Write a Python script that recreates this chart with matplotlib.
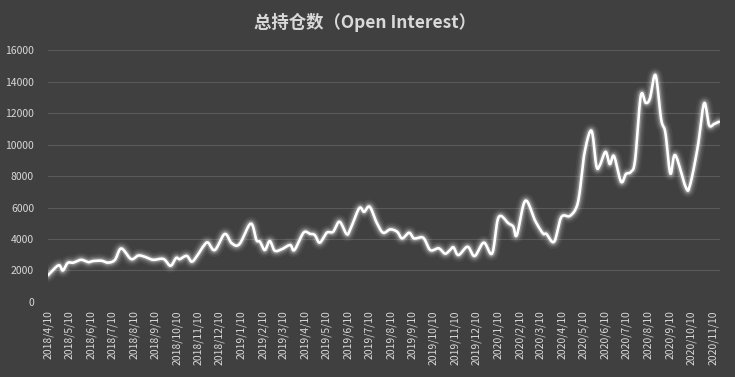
import numpy as np
import pandas as pd
import matplotlib
matplotlib.use("Agg")
import matplotlib.pyplot as plt
import matplotlib.dates as mdates

plt.rcParams['font.family'] = ['Noto Sans CJK SC', 'DejaVu Sans']

# weekly-ish open interest values
dates = [
    '2018-04-10', '2018-04-25', '2018-05-01', '2018-05-08', '2018-05-16', '2018-05-27',
    '2018-06-06', '2018-06-13', '2018-06-25', '2018-07-04', '2018-07-14', '2018-07-23',
    '2018-08-06', '2018-08-16', '2018-08-25', '2018-09-06', '2018-09-21', '2018-10-01',
    '2018-10-09', '2018-10-14', '2018-10-24', '2018-10-31', '2018-11-07', '2018-11-16',
    '2018-11-23', '2018-12-03', '2018-12-17', '2018-12-27', '2019-01-07', '2019-01-23',
    '2019-01-31', '2019-02-05', '2019-02-12', '2019-02-19', '2019-02-26', '2019-03-08',
    '2019-03-20', '2019-03-26', '2019-04-08', '2019-04-17', '2019-04-24', '2019-05-01',
    '2019-05-11', '2019-05-20', '2019-05-29', '2019-06-08', '2019-06-13', '2019-06-26',
    '2019-07-03', '2019-07-11', '2019-07-21', '2019-07-30', '2019-08-09', '2019-08-19',
    '2019-08-26', '2019-09-05', '2019-09-12', '2019-09-25', '2019-10-05', '2019-10-17',
    '2019-10-26', '2019-11-02', '2019-11-07', '2019-11-14', '2019-11-27', '2019-12-07',
    '2019-12-20', '2020-01-01', '2020-01-10', '2020-01-24', '2020-01-31', '2020-02-05',
    '2020-02-17', '2020-03-02', '2020-03-13', '2020-03-18', '2020-03-29', '2020-04-08',
    '2020-04-20', '2020-04-29', '2020-05-04', '2020-05-11', '2020-05-21', '2020-05-28',
    '2020-06-02', '2020-06-10', '2020-06-16', '2020-06-22', '2020-07-02', '2020-07-09',
    '2020-07-16', '2020-07-22', '2020-07-30', '2020-08-06', '2020-08-12', '2020-08-20',
    '2020-08-28', '2020-09-03', '2020-09-10', '2020-09-17', '2020-10-02', '2020-10-08',
    '2020-10-19', '2020-10-28', '2020-11-04', '2020-11-11', '2020-11-18',
]
open_interest = [
    1700, 2330, 2000, 2480, 2500, 2680,
    2530, 2600, 2620, 2500, 2670, 3400,
    2730, 2950, 2880, 2680, 2730, 2300,
    2800, 2720, 2930, 2560, 2880, 3500,
    3780, 3300, 4320, 3730, 3680, 4980,
    3940, 3830, 3300, 3870, 3260, 3350,
    3620, 3300, 4400, 4330, 4250, 3770,
    4400, 4460, 5100, 4320, 4570, 5950,
    5730, 6050, 5030, 4400, 4610, 4460,
    4040, 4400, 4040, 4080, 3300, 3410,
    3070, 3300, 3470, 2980, 3510, 2920,
    3770, 3090, 5380, 5000, 4780, 4250,
    6430, 5160, 4360, 4320, 3830, 5380,
    5460, 5950, 6900, 9440, 10880, 8630,
    8700, 9540, 8760, 9270, 7640, 8130,
    8270, 9020, 13080, 12650, 12930, 14410,
    11600, 10750, 8170, 9330, 7280, 7430,
    9860, 12620, 11240, 11300, 11450,
]
tick_labels = pd.date_range('2018-04-01', '2020-11-01', freq='MS') + pd.Timedelta(days=9)


def catmull_rom(x, y, n=12):
    # smooth curve through the points, like a spreadsheet "smoothed line"
    x = np.asarray(x, float)
    y = np.asarray(y, float)
    px = np.concatenate([[2 * x[0] - x[1]], x, [2 * x[-1] - x[-2]]])
    py = np.concatenate([[2 * y[0] - y[1]], y, [2 * y[-1] - y[-2]]])
    t = np.linspace(0, 1, n, endpoint=False)
    xs, ys = [], []
    for i in range(1, len(px) - 2):
        for p, out in ((px, xs), (py, ys)):
            p0, p1, p2, p3 = p[i - 1], p[i], p[i + 1], p[i + 2]
            out.append(0.5 * ((2 * p1) + (-p0 + p2) * t
                              + (2 * p0 - 5 * p1 + 4 * p2 - p3) * t ** 2
                              + (-p0 + 3 * p1 - 3 * p2 + p3) * t ** 3))
    xs.append([x[-1]])
    ys.append([y[-1]])
    return np.concatenate(xs), np.concatenate(ys)


bg = '#404040'
txt = '#d9d9d9'

fig = plt.figure(figsize=(7.35, 3.77), dpi=100, facecolor=bg)
ax = fig.add_axes([0.0653, 0.199, 0.9147, 0.668])
ax.set_facecolor(bg)

xnum = mdates.date2num(pd.to_datetime(dates))
sx, sy = catmull_rom(xnum, open_interest)

# glow
for lw, a in [(10, 0.05), (7.5, 0.08), (5.5, 0.12), (3.8, 0.22)]:
    ax.plot(sx, sy, color='white', lw=lw, alpha=a, solid_capstyle='round')
ax.plot(sx, sy, color='white', lw=1.9, solid_capstyle='round')

ax.set_ylim(0, 16000)
ax.set_yticks(np.arange(0, 16001, 2000))
ax.set_xlim(mdates.date2num(pd.Timestamp('2018-04-10')),
            mdates.date2num(pd.Timestamp('2020-11-20')))
ax.set_xticks(mdates.date2num(tick_labels))
ax.set_xticklabels([f'{d.year}/{d.month}/{d.day}' for d in tick_labels],
                   rotation=90, fontsize=7.5, color=txt)
ax.tick_params(axis='y', labelsize=7.5, labelcolor=txt, length=0, pad=10)
ax.tick_params(axis='x', length=0, pad=6)
ax.grid(axis='y', color='#5a5a5a', lw=0.8)
ax.set_axisbelow(True)
for s in ax.spines.values():
    s.set_visible(False)

fig.text(0.497, 0.94, '总持仓数（Open Interest）', ha='center', va='center',
         fontsize=12.5, fontweight='bold', color=txt)

fig.savefig('out.png', dpi=100, facecolor=bg)
